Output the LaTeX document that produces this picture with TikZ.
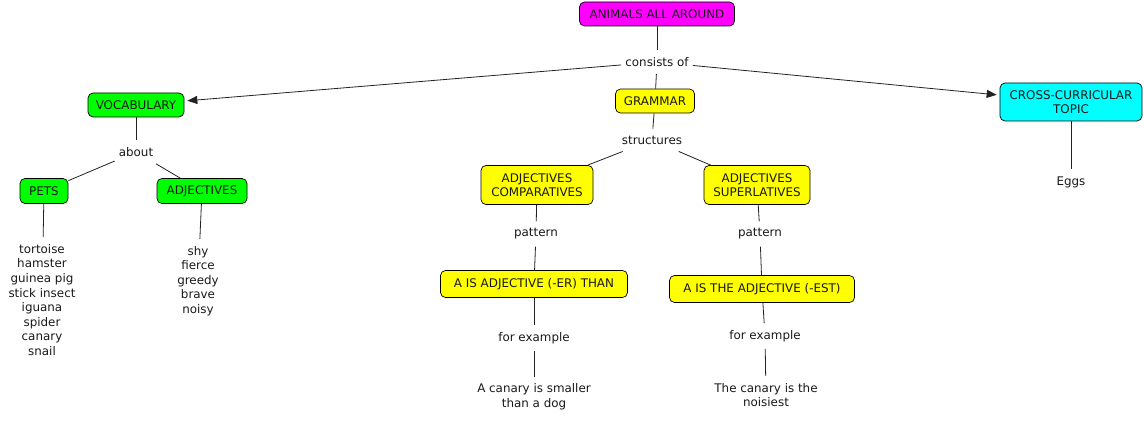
\documentclass[tikz,border=0pt]{standalone}
\usepackage{fontspec}
\setmainfont{DejaVu Sans}
\usetikzlibrary{arrows.meta}
\definecolor{cmag}{HTML}{FF00FF}
\definecolor{cyel}{HTML}{FFFF00}
\definecolor{cgrn}{HTML}{00FF00}
\definecolor{ccyan}{HTML}{00FFFF}
\definecolor{lncol}{HTML}{222222}
\begin{document}
\begin{tikzpicture}[x=1pt,y=-1pt,
  every node/.style={font=\fontsize{11.9}{14.6}\selectfont, text=black!90},
  box/.style={draw=black, rounded corners=5pt, line width=0.7pt, align=center, inner sep=2pt},
  lbl/.style={inner xsep=4pt, inner ysep=7pt, align=center},
  conn/.style={draw=lncol, line width=0.8pt},
  arr/.style={conn, -{Triangle[length=10pt,width=8pt]}, shorten >=3pt}]
\useasboundingbox (0,0) rectangle (1144,422);
% concepts
\node[box, fill=cmag, minimum width=155, minimum height=24] (animals) at (657,14) {ANIMALS ALL AROUND};
\node[box, fill=cyel, minimum width=79, minimum height=24] (grammar) at (655,101) {GRAMMAR};
\node[box, fill=cgrn, minimum width=96, minimum height=24] (vocab) at (136,105) {VOCABULARY};
\node[box, fill=ccyan, minimum width=142, minimum height=38] (cross) at (1071,102) {CROSS-CURRICULAR\\TOPIC};
\node[box, fill=cgrn, minimum width=48, minimum height=25] (pets) at (44,191) {PETS};
\node[box, fill=cgrn, minimum width=90, minimum height=25] (adjg) at (202,191) {ADJECTIVES};
\node[box, fill=cyel, minimum width=112, minimum height=39] (comp) at (537,185) {ADJECTIVES\\COMPARATIVES};
\node[box, fill=cyel, minimum width=106, minimum height=39] (sup) at (757,185) {ADJECTIVES\\SUPERLATIVES};
\node[box, fill=cyel, minimum width=187, minimum height=27] (er) at (534,284) {A IS ADJECTIVE (-ER) THAN};
\node[box, fill=cyel, minimum width=185, minimum height=27] (est) at (762,289) {A IS THE ADJECTIVE (-EST)};
% plain texts
\node[lbl] (eggs) at (1071,182) {Eggs};
\node[lbl] (petlist) at (42,300) {tortoise\\hamster\\guinea pig\\stick insect\\iguana\\spider\\canary\\snail};
\node[lbl] (adjlist) at (198,281) {shy\\fierce\\greedy\\brave\\noisy};
\node[lbl] (ex1) at (534,397) {A canary is smaller\\than a dog};
\node[lbl] (ex2) at (766,395) {The canary is the\\noisiest};
% linking phrases
\node[lbl] (consists) at (657,62) {consists of};
\node[lbl] (about) at (136,152) {about};
\node[lbl] (structures) at (652,140) {structures};
\node[lbl] (pat1) at (536,234) {pattern};
\node[lbl] (pat2) at (760,234) {pattern};
\node[lbl] (fe1) at (534,338) {for example};
\node[lbl] (fe2) at (765,336) {for example};
% connectors
\draw[conn] (animals) -- (consists);
\draw[arr] (consists) -- (vocab);
\draw[conn] (consists) -- (grammar);
\draw[arr] (consists) -- (cross);
\draw[conn] (vocab) -- (about);
\draw[conn] (about) -- (pets);
\draw[conn] (about) -- (adjg);
\draw[conn] (pets) -- (petlist);
\draw[conn] (adjg) -- (adjlist);
\draw[conn] (grammar) -- (structures);
\draw[conn] (structures) -- (comp);
\draw[conn] (structures) -- (sup);
\draw[conn] (comp) -- (pat1);
\draw[conn] (pat1) -- (er);
\draw[conn] (sup) -- (pat2);
\draw[conn] (pat2) -- (est);
\draw[conn] (er) -- (fe1);
\draw[conn] (fe1) -- (ex1);
\draw[conn] (est) -- (fe2);
\draw[conn] (fe2) -- (ex2);
\draw[conn] (cross) -- (eggs);
\end{tikzpicture}
\end{document}
